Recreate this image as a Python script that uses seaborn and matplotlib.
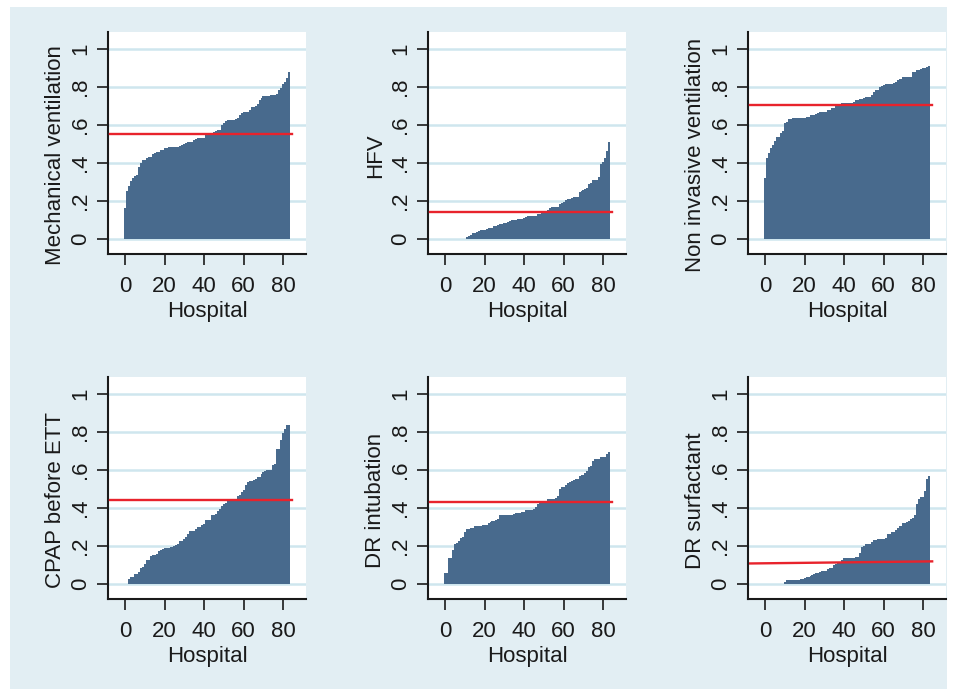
"""Hospital-level proportions for six respiratory practices, Stata-style panels"""

import matplotlib

matplotlib.use("Agg")
import matplotlib.pyplot as plt
from matplotlib.patches import Rectangle
import numpy as np
import pandas as pd
import seaborn as sns

# Sorted hospital proportions, one list per panel
mech_vent = [0.161, 0.25, 0.279, 0.304, 0.32, 0.333, 0.335, 0.379, 0.40, 0.414,
             0.414, 0.426, 0.43, 0.43, 0.445, 0.453, 0.46, 0.46, 0.467, 0.47,
             0.479, 0.479, 0.482, 0.482, 0.482, 0.482, 0.482, 0.482, 0.488, 0.493,
             0.50, 0.507, 0.509, 0.509, 0.509, 0.519, 0.525, 0.529, 0.529, 0.533,
             0.533, 0.546, 0.551, 0.554, 0.558, 0.561, 0.568, 0.572, 0.572, 0.602,
             0.612, 0.621, 0.625, 0.628, 0.628, 0.628, 0.633, 0.637, 0.654, 0.665,
             0.667, 0.667, 0.667, 0.677, 0.695, 0.697, 0.702, 0.709, 0.733, 0.74,
             0.751, 0.751, 0.751, 0.754, 0.756, 0.756, 0.758, 0.763, 0.782, 0.796,
             0.818, 0.826, 0.849, 0.877]

hfv = [0, 0, 0, 0, 0, 0, 0, 0, 0, 0, 0,
       0.01, 0.016, 0.023, 0.03, 0.03, 0.037, 0.04, 0.049, 0.049, 0.049,
       0.053, 0.06, 0.06, 0.06, 0.067, 0.069, 0.072, 0.077, 0.081, 0.082,
       0.084, 0.089, 0.093, 0.098, 0.102, 0.102, 0.104, 0.105, 0.107, 0.111,
       0.116, 0.119, 0.119, 0.119, 0.119, 0.119, 0.13, 0.133, 0.137, 0.14, 0.144,
       0.151, 0.163, 0.167, 0.167, 0.17, 0.17, 0.182, 0.19, 0.195, 0.204,
       0.209, 0.212, 0.216, 0.219, 0.221, 0.221, 0.249, 0.253, 0.258, 0.265,
       0.27, 0.288, 0.296, 0.309, 0.309, 0.309, 0.326, 0.396, 0.405, 0.426,
       0.463, 0.51]

non_invasive = [0.321, 0.425, 0.451, 0.477, 0.495, 0.514, 0.535, 0.535, 0.556, 0.567,
                0.609, 0.614, 0.63, 0.63, 0.635, 0.635, 0.635, 0.635, 0.635, 0.639,
                0.639, 0.644, 0.644, 0.651, 0.651, 0.653, 0.656, 0.663, 0.667, 0.667,
                0.667, 0.667, 0.681, 0.681, 0.688, 0.691, 0.698, 0.704, 0.709, 0.714,
                0.714, 0.714, 0.714, 0.714, 0.714, 0.723, 0.73, 0.731, 0.735, 0.737,
                0.744, 0.746, 0.746, 0.746, 0.756, 0.772, 0.782, 0.782, 0.8, 0.804,
                0.811, 0.814, 0.814, 0.814, 0.818, 0.821, 0.826, 0.835, 0.84, 0.844,
                0.851, 0.851, 0.851, 0.851, 0.854, 0.877, 0.881, 0.888, 0.888, 0.895,
                0.898, 0.90, 0.905, 0.911]

cpap_before_ett = [0, 0,
                   0.028, 0.035, 0.035, 0.051, 0.051, 0.063, 0.086, 0.089, 0.104, 0.125,
                   0.125, 0.146, 0.151, 0.151, 0.16, 0.172, 0.177, 0.182, 0.191, 0.191,
                   0.191, 0.193, 0.195, 0.198, 0.204, 0.209, 0.225, 0.225, 0.239, 0.249,
                   0.261, 0.277, 0.277, 0.277, 0.288, 0.298, 0.298, 0.311, 0.316, 0.335,
                   0.335, 0.335, 0.361, 0.363, 0.37, 0.382, 0.396, 0.409, 0.421, 0.428,
                   0.442, 0.442, 0.442, 0.442, 0.449, 0.461, 0.467, 0.482, 0.495, 0.519,
                   0.535, 0.54, 0.544, 0.547, 0.554, 0.561, 0.565, 0.579, 0.591, 0.595,
                   0.598, 0.602, 0.602, 0.625, 0.633, 0.709, 0.712, 0.756, 0.796, 0.814,
                   0.835, 0.835]

dr_intubation = [0.056, 0.056, 0.135, 0.135, 0.177, 0.209, 0.214, 0.225, 0.244, 0.247,
                 0.272, 0.289, 0.289, 0.293, 0.293, 0.304, 0.304, 0.304, 0.304, 0.309,
                 0.309, 0.309, 0.321, 0.326, 0.333, 0.333, 0.339, 0.344, 0.361, 0.361,
                 0.365, 0.365, 0.365, 0.365, 0.365, 0.37, 0.374, 0.375, 0.375, 0.377,
                 0.381, 0.388, 0.388, 0.388, 0.391, 0.396, 0.404, 0.423, 0.425, 0.425,
                 0.428, 0.428, 0.446, 0.446, 0.446, 0.446, 0.453, 0.461, 0.498, 0.509,
                 0.509, 0.521, 0.53, 0.537, 0.542, 0.547, 0.551, 0.554, 0.567, 0.572,
                 0.575, 0.582, 0.595, 0.618, 0.621, 0.646, 0.656, 0.656, 0.656, 0.667,
                 0.667, 0.667, 0.682, 0.693]

dr_surfactant = [0, 0, 0, 0, 0, 0, 0, 0, 0, 0,
                 0.01, 0.019, 0.019, 0.019, 0.019, 0.019, 0.019, 0.019, 0.025, 0.028,
                 0.03, 0.035, 0.035, 0.042, 0.049, 0.053, 0.056, 0.056, 0.061, 0.067,
                 0.07, 0.07, 0.077, 0.082, 0.084, 0.102, 0.105, 0.111, 0.116, 0.126,
                 0.135, 0.135, 0.135, 0.135, 0.135, 0.135, 0.144, 0.144, 0.165, 0.193,
                 0.20, 0.209, 0.212, 0.212, 0.221, 0.23, 0.233, 0.235, 0.239, 0.239,
                 0.239, 0.244, 0.261, 0.263, 0.274, 0.274, 0.282, 0.293, 0.305, 0.305,
                 0.321, 0.321, 0.326, 0.333, 0.34, 0.347, 0.361, 0.421, 0.446, 0.456,
                 0.46, 0.491, 0.551, 0.568]

panel_labels = ["Mechanical ventilation", "HFV", "Non invasive ventilation",
                "CPAP before ETT", "DR intubation", "DR surfactant"]
panel_values = [mech_vent, hfv, non_invasive, cpap_before_ett, dr_intubation, dr_surfactant]

# Overall (red) reference line: value at the left and right ends
ref_left = [0.553, 0.144, 0.703, 0.442, 0.430, 0.108]
ref_right = [0.553, 0.144, 0.703, 0.442, 0.430, 0.119]
ref_x = [-7.5, 84.5]

x_ticks = [0, 20, 40, 60, 80]
y_ticks = [0, 0.2, 0.4, 0.6, 0.8, 1.0]
y_tick_labels = ["0", ".2", ".4", ".6", ".8", "1"]

# Colours
BG = "#e2eef3"
GRID = "#cfe6ee"
BAR = "#486a8d"
RED = "#e8232c"
INK = "#1a1a1a"
FS = 16

plt.rcParams["font.family"] = ["Liberation Sans", "DejaVu Sans"]

W, H = 956, 694
fig = plt.figure(figsize=(W / 100, H / 100), dpi=100, facecolor="white")
fig.patches.append(
    Rectangle((10 / W, 1 - 689 / H), 937 / W, 682 / H,
              transform=fig.transFigure, facecolor=BG, edgecolor="none", zorder=-10)
)

col_left = [108, 428, 748]
row_top = [32, 377]
ax_w, ax_h = 198, 222

for k, (label, vals) in enumerate(zip(panel_labels, panel_values)):
    r, c = divmod(k, 3)
    ax = fig.add_axes([col_left[c] / W, 1 - (row_top[r] + ax_h) / H, ax_w / W, ax_h / H])
    ax.set_facecolor("white")

    df = pd.DataFrame({"hospital": np.arange(len(vals)), "value": vals})
    sns.barplot(data=df, x="hospital", y="value", native_scale=True, width=1,
                color=BAR, saturation=1, errorbar=None, linewidth=0,
                ax=ax, zorder=2)
    sns.lineplot(x=ref_x, y=[ref_left[k], ref_right[k]], color=RED,
                 linewidth=1.7, ax=ax, zorder=3)

    ax.set_xlim(-8.6, 91.5)
    ax.set_ylim(-0.079, 1.089)
    ax.set_xticks(x_ticks)
    ax.set_xticklabels([str(t) for t in x_ticks])
    ax.set_yticks(y_ticks)
    ax.set_yticklabels(y_tick_labels, rotation=90, va="center")

    ax.yaxis.grid(True, color=GRID, linewidth=1.8)
    ax.xaxis.grid(False)
    ax.set_axisbelow(True)

    for side in ["top", "right"]:
        ax.spines[side].set_visible(False)
    for side in ["left", "bottom"]:
        ax.spines[side].set_linewidth(1.5)
        ax.spines[side].set_color(INK)

    ax.tick_params(axis="both", direction="out", length=8, width=1.2,
                   color=INK, labelsize=FS, labelcolor=INK)
    ax.tick_params(axis="x", pad=8)
    ax.tick_params(axis="y", pad=4)

    ax.set_xlabel("Hospital", fontsize=FS, color=INK, labelpad=3)
    ax.set_ylabel(label, fontsize=FS, color=INK, labelpad=3)
    ax.yaxis.label.set_y(0.445)

plt.savefig("out.png", dpi=100, facecolor="white")
plt.close()
